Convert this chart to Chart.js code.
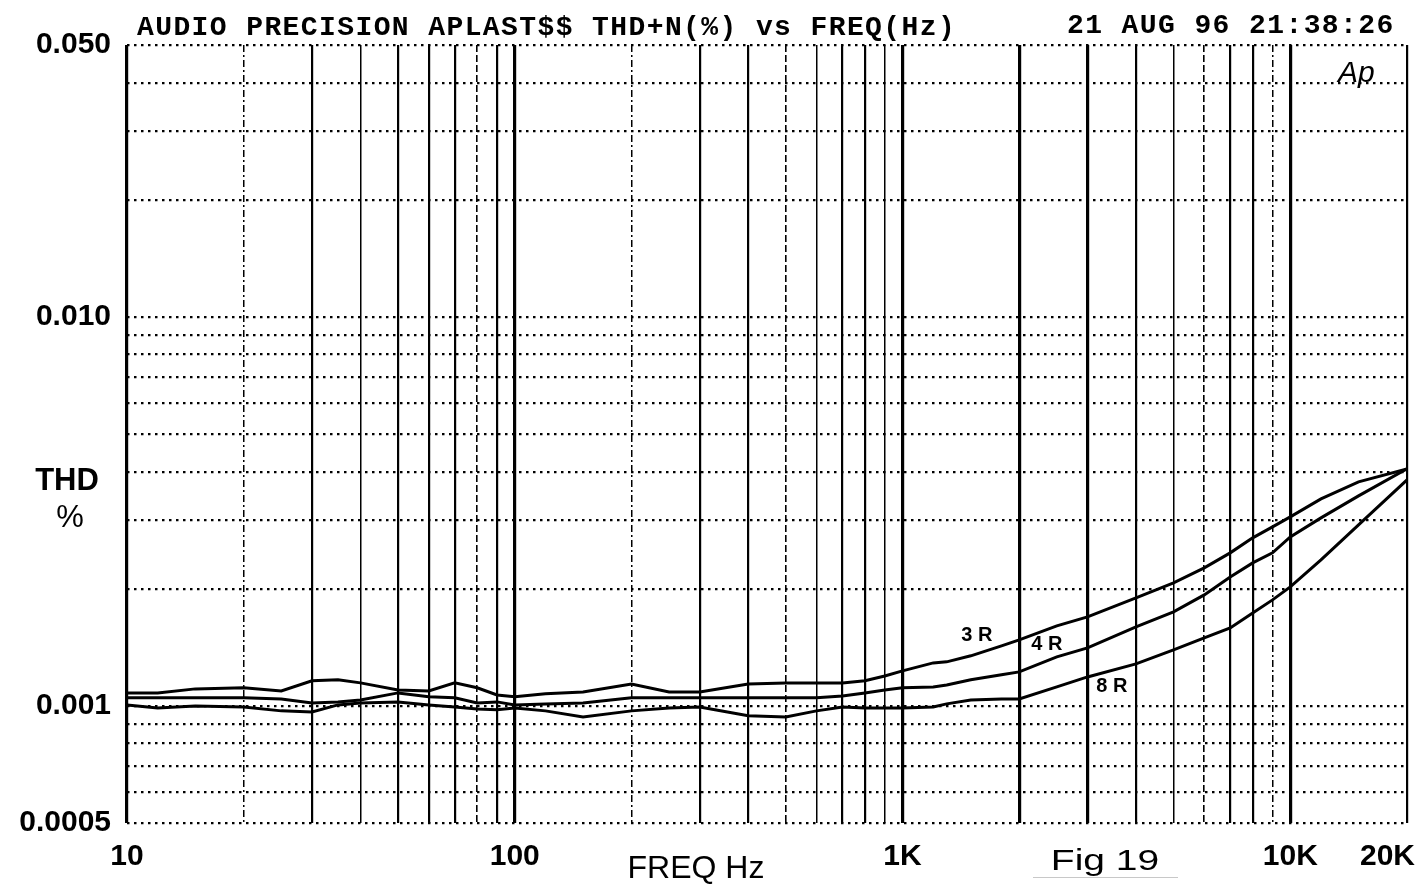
<!DOCTYPE html>
<html>
<head>
<title>THD+N vs FREQ - Fig 19</title>
<meta charset="UTF-8">
<script src="https://cdn.jsdelivr.net/npm/chart.js@4.4.1/dist/chart.umd.min.js"></script>
<style>
 body{ margin:0; background:#fff; }
 #wrap{ width:1424px; height:884px; position:relative; }
</style>
</head>
<body>

<div id="wrap">
  <canvas id="canvas" width="1424" height="884"></canvas>
</div>

<script>

////////////////////////// sweep data //////////////////////////
// frequency points of the sweep (Hz), shared by the three loads
var freqHz = [10,12,15,20,25,30,35,40,50,60,70,80,90,100,120,150,200,250,300,400,
              500,600,700,800,900,1000,1200,1300,1500,1800,2000,2500,3000,4000,5000,
              6000,7000,8000,9000,10000,12000,15000,20000];

// THD+N in % for each load
var thd3R = [0.001080,0.001080,0.001106,0.001113,0.001093,0.001160,0.001167,0.001146,0.001099,0.001093,
             0.001146,0.001113,0.001067,0.001055,0.001074,0.001086,0.001139,0.001086,0.001086,0.001139,
             0.001146,0.001146,0.001146,0.001160,0.001194,0.001230,0.001290,0.001298,0.001345,0.001426,
             0.001478,0.001606,0.001694,0.001895,0.002071,0.002264,0.002474,0.002704,0.002886,0.003061,
             0.003405,0.003765,0.004068];
var thd4R = [0.001049,0.001049,0.001049,0.001049,0.001042,0.001018,0.001024,0.001036,0.001080,0.001055,
             0.001049,0.001018,0.001024,0.001006,0.001012,0.001018,0.001049,0.001049,0.001049,0.001049,
             0.001049,0.001049,0.001061,0.001080,0.001099,0.001113,0.001119,0.001132,0.001167,0.001202,
             0.001223,0.001337,0.001410,0.001596,0.001745,0.001929,0.002146,0.002332,0.002474,0.002720,
             0.003043,0.003466,0.004068];
var thd8R = [0.001006,0.000988,0.001000,0.000994,0.000971,0.000965,0.001006,0.001018,0.001024,0.001006,
             0.000994,0.000982,0.000977,0.000988,0.000971,0.000937,0.000971,0.000988,0.000994,0.000943,
             0.000937,0.000971,0.000994,0.000988,0.000988,0.000988,0.000994,0.001012,0.001036,0.001042,
             0.001042,0.001119,0.001187,0.001282,0.001393,0.001496,0.001587,0.001734,0.001873,0.002023,
             0.002373,0.002920,0.003810];
var loadNames = ["3 R","4 R","8 R"];

// axes
var xTickVals   = [10,100,1000,10000,20000];
var xTickLabels = ["10","100","1K","10K","20K"];
var yTickVals   = [0.0005,0.001,0.01,0.05];
var yTickLabels = ["0.0005","0.001","0.010","0.050"];

// grid lines at every 1..9 step of each decade
var xGridVals = [];
[10,100,1000].forEach(function(d){ for(var k=1;k<10;k++){ xGridVals.push(k*d); } });
xGridVals.push(10000,20000);
var yGridVals = [];
[0.0001,0.001].forEach(function(d){ for(var k=1;k<10;k++){ if(k*d>=0.0005-1e-12) yGridVals.push(+(k*d).toPrecision(3)); } });
yGridVals.push(0.01,0.02,0.03,0.04,0.05);

////////////////////////// line styles //////////////////////////
var heavyX   = [10,100,1000,2000,3000,10000];
var thinX    = [40,600,900,5000];
var dashedX  = [80,500,6000];
var dashDotX = [20,200,9000];

function near(a,b){ return Math.abs(a-b) <= Math.abs(b)*1e-6; }
function inList(v,list){ return list.some(function(t){ return near(v,t); }); }

function xLine(v){
    if (v === undefined) return {w:2, dash:[]};
    if (inList(v,heavyX))   return {w:3.2, dash:[]};
    if (inList(v,thinX))    return {w:1.5, dash:[]};
    if (inList(v,dashedX))  return {w:1.6, dash:[7,3]};
    if (inList(v,dashDotX)) return {w:1.5, dash:[7,3,2,3]};
    return {w:2.2, dash:[]};
}

function mkPoints(vals){
    return freqHz.map(function(f,i){ return {x:f, y:vals[i]}; });
}

////////////////////////// text on top of the plot //////////////////////////
var SANS = '"Liberation Sans", Arial, sans-serif';
var curveTagAt = [[1555,0.001513],[2357,0.001435],[3467,0.001119]];

var annotate = {
    id: 'annotate',
    afterDraw: function(chart){
        var ctx = chart.ctx, xs = chart.scales.x, ys = chart.scales.y, area = chart.chartArea;
        ctx.save();
        ctx.fillStyle = '#000';
        ctx.textBaseline = 'middle';

        // frequency labels
        ctx.font = 'bold 30px ' + SANS;
        xTickVals.forEach(function(v,i){
            var px = xs.getPixelForValue(v);
            ctx.textAlign = 'center';
            if (i === xTickVals.length-1){ ctx.textAlign = 'right'; px = area.right + 8; }
            ctx.fillText(xTickLabels[i], px, area.bottom + 34);
        });

        // axis names
        ctx.textAlign = 'center';
        ctx.font = '32px ' + SANS;
        ctx.fillText('FREQ Hz', 696, 869);
        ctx.font = 'bold 31px ' + SANS;
        ctx.fillText('THD', 67, 481);
        ctx.font = '31px ' + SANS;
        ctx.fillText('%', 70, 518);

        // figure number, stretched wide
        ctx.save();
        ctx.translate(1105, 862);
        ctx.scale(1.3, 1);
        ctx.font = '30px ' + SANS;
        ctx.fillText('Fig 19', 0, 0);
        ctx.restore();
        ctx.strokeStyle = '#c8c8c8';
        ctx.lineWidth = 1;
        ctx.beginPath(); ctx.moveTo(1033, 877.5); ctx.lineTo(1178, 877.5); ctx.stroke();

        // load tags next to the curves
        ctx.font = 'bold 20px ' + SANS;
        loadNames.forEach(function(n,i){
            ctx.fillText(n, xs.getPixelForValue(curveTagAt[i][0]), ys.getPixelForValue(curveTagAt[i][1]));
        });

        // analyzer header
        ctx.font = 'bold 28px "Liberation Mono", "DejaVu Sans Mono", monospace';
        ctx.letterSpacing = '1.4px';
        ctx.textAlign = 'left';
        ctx.fillText('AUDIO PRECISION APLAST$$ THD+N(%) vs FREQ(Hz)', 137, 28);
        ctx.fillText('21 AUG 96 21:38:26', 1067, 26);
        ctx.letterSpacing = '0px';

        // Ap mark
        ctx.font = 'italic 30px ' + SANS;
        ctx.fillText('Ap', 1338, 74);
        ctx.restore();
    }
};

////////////////////////// chart //////////////////////////
var ctx = document.getElementById("canvas").getContext("2d");
var chart = new Chart(ctx, {
    type: 'line',
    data: {
        datasets: [thd3R, thd4R, thd8R].map(function(vals,i){
            return {
                label: loadNames[i],
                data: mkPoints(vals),
                borderColor: '#000',
                borderWidth: 3,
                pointRadius: 0,
                fill: false,
                tension: 0
            };
        })
    },
    options: {
        responsive: false,
        animation: false,
        layout: { padding: { top: 45, right: 17, left: 0, bottom: 0 } },
        plugins: {
            legend: { display: false },
            tooltip: { enabled: false },
            title: { display: false }
        },
        scales: {
            x: {
                type: 'logarithmic',
                position: 'bottom',
                min: 10,
                max: 20000,
                afterBuildTicks: function(s){ s.ticks = xGridVals.map(function(v){ return {value:v}; }); },
                afterFit: function(s){ s.height = 61; },
                ticks: { display: false, autoSkip: false },
                grid: {
                    drawTicks: false,
                    color: '#000',
                    lineWidth: function(c){ return xLine(c.tick && c.tick.value).w; }
                },
                border: {
                    display: false,
                    dash: function(c){ return xLine(c.tick && c.tick.value).dash; }
                }
            },
            y: {
                type: 'logarithmic',
                position: 'left',
                min: 0.0005,
                max: 0.05,
                afterBuildTicks: function(s){ s.ticks = yGridVals.map(function(v){ return {value:v}; }); },
                afterFit: function(s){ s.width = 127; },
                ticks: {
                    autoSkip: false,
                    padding: 16,
                    color: '#000',
                    font: { family: SANS, size: 30, weight: 'bold' },
                    callback: function(v){
                        for (var i=0;i<yTickVals.length;i++){ if (near(v,yTickVals[i])) return yTickLabels[i]; }
                        return '';
                    }
                },
                grid: {
                    drawTicks: false,
                    color: '#000',
                    lineWidth: 2.2
                },
                border: { display: false, dash: [2.5,4.5] }
            }
        }
    },
    plugins: [annotate]
});

</script>
</body>
</html>
